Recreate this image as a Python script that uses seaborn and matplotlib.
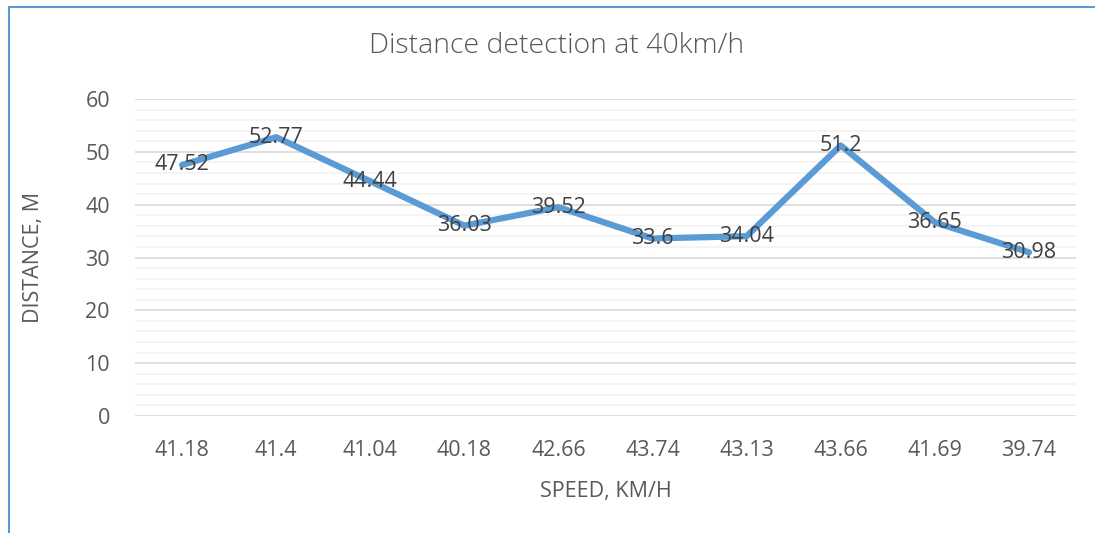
import matplotlib.pyplot as plt
import seaborn as sns
import numpy as np
from matplotlib.lines import Line2D
from matplotlib.ticker import MultipleLocator

speed = ["41.18", "41.4", "41.04", "40.18", "42.66", "43.74", "43.13", "43.66", "41.69", "39.74"]
distance = [47.52, 52.77, 44.44, 36.03, 39.52, 33.6, 34.04, 51.2, 36.65, 30.98]

sns.set_theme(style="white")
plt.rcParams['font.family'] = ['Open Sans', 'DejaVu Sans']

fig = plt.figure(figsize=(10.95, 5.33), dpi=100)
ax = fig.add_axes([135 / 1095, 1 - 416 / 533, 941 / 1095, 317 / 533])

pos = np.arange(len(speed))
sns.lineplot(x=pos, y=distance, ax=ax, color="#5B9BD5", linewidth=4.5,
             solid_joinstyle="round", solid_capstyle="round", zorder=3)

for x, y in zip(pos, distance):
    ax.text(x, y, f"{y:g}", ha="center", va="center", fontsize=15.5,
            color="#404040", zorder=4)

ax.set_xlim(-0.5, len(speed) - 0.5)
ax.set_ylim(0, 60)
ax.set_xticks(pos)
ax.set_xticklabels(speed)
ax.yaxis.set_major_locator(MultipleLocator(10))
ax.yaxis.set_minor_locator(MultipleLocator(2))
ax.grid(which="major", axis="y", color="#D9D9D9", linewidth=1.2)
ax.grid(which="minor", axis="y", color="#F2F2F2", linewidth=1.2)
ax.set_axisbelow(True)
for s in ax.spines.values():
    s.set_visible(False)
ax.tick_params(axis="both", which="both", length=0, labelsize=15.5, colors="#595959")
ax.tick_params(axis="y", pad=18)
ax.tick_params(axis="x", pad=17)

ax.set_xlabel("SPEED, KM/H", fontsize=15.5, color="#595959", va="center")
ax.xaxis.set_label_coords(0.5, (416 - 491) / 317)
ax.set_ylabel("DISTANCE, M", fontsize=15.5, color="#595959", va="center")
ax.yaxis.set_label_coords((33 - 135) / 941, 0.5)
fig.text(557 / 1095, 1 - 46 / 533, "Distance detection at 40km/h", ha="center",
         va="center", fontsize=20.5, color="#595959", fontweight="light")

# chart frame edges visible in the screenshot
fig.add_artist(Line2D([9 / 1095, 9 / 1095], [0, 1 - 7 / 533], color="#5B9BD5", linewidth=1.5))
fig.add_artist(Line2D([9 / 1095, 1], [1 - 7 / 533, 1 - 7 / 533], color="#5B9BD5", linewidth=1.5))

fig.savefig("out.png", dpi=100, facecolor="white")
